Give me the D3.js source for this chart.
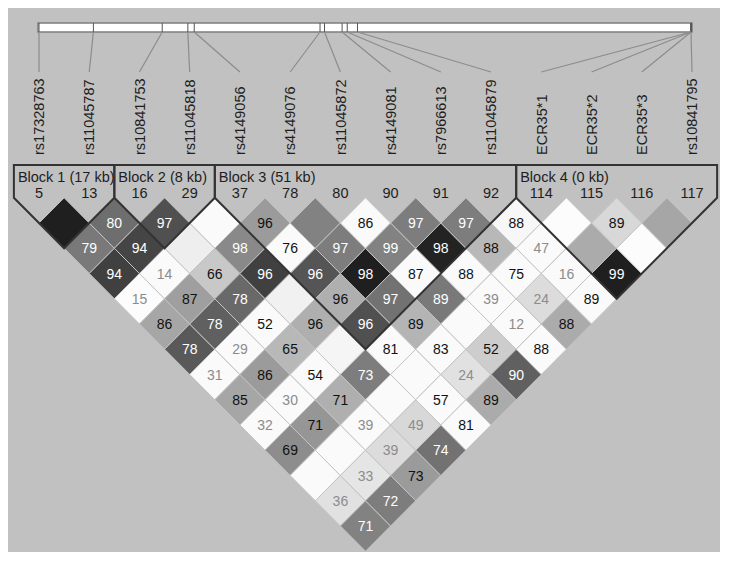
<!DOCTYPE html>
<html>
<head>
<meta charset="utf-8">
<script src="https://d3js.org/d3.v7.min.js"></script>
<style>
  body { margin: 0; background: #fff; }
  text { font-family: "Liberation Sans", Arial, sans-serif; }
</style>
</head>
<body>
<div id="ld"></div>
<script>
// markers, in map order
var markerNames = ["rs17328763", "rs11045787", "rs10841753", "rs11045818", "rs4149056",
  "rs4149076", "rs11045872", "rs4149081", "rs7966613", "rs11045879",
  "ECR35*1", "ECR35*2", "ECR35*3", "rs10841795"];
var markerIds = [5, 13, 16, 29, 37, 78, 80, 90, 91, 92, 114, 115, 116, 117];
// physical position along the region (kb)
var positionsKb = [0, 17, 38.5, 46.5, 48.5, 87.8, 89.2, 94.7, 96.3, 99.5, 203.7, 203.7, 203.7, 203.7];

// haplotype blocks
var blockStart = [0, 2, 4, 10];
var blockEnd = [1, 3, 9, 13];
var blockSize = ["17 kb", "8 kb", "51 kb", "0 kb"];

// D' (x100) for marker i against j = i+1 .. last; null = 1.0 (no number shown)
var dPrime = [
  [null, 79, 94, 15, 86, 78, 31, 85, 32, 69, null, 36, 71],
  [80, 94, 14, 87, 78, 29, 86, 30, 71, null, 33, 72],
  [97, null, 66, 78, 52, 65, 54, 71, 39, 39, 73],
  [null, 98, 96, null, 96, null, 73, null, 49, 74],
  [96, 76, 96, 96, 96, 81, null, 57, 81],
  [null, 97, 98, 97, 89, 83, 24, 89],
  [86, 99, 87, 89, null, 52, 90],
  [97, 98, 88, 39, 12, 88],
  [97, 88, 75, 24, 88],
  [88, 47, 16, 89],
  [null, null, 99],
  [89, null],
  [null]
];

// r-squared for the same pairs (drives the grey shade)
var rSquared = [
  [0.98, 0.58, 0.83, 0.00, 0.38, 0.72, 0.01, 0.38, 0.01, 0.49, 0.01, 0.12, 0.54],
  [0.63, 0.81, 0.01, 0.41, 0.69, 0.01, 0.43, 0.01, 0.45, 0.01, 0.10, 0.56],
  [0.76, 0.06, 0.23, 0.65, 0.01, 0.30, 0.01, 0.34, 0.01, 0.14, 0.43],
  [0.01, 0.51, 0.83, 0.05, 0.34, 0.03, 0.56, 0.01, 0.16, 0.61],
  [0.43, 0.01, 0.74, 0.34, 0.76, 0.01, 0.01, 0.01, 0.01],
  [0.54, 0.56, 0.98, 0.61, 0.32, 0.01, 0.12, 0.36],
  [0.01, 0.54, 0.01, 0.58, 0.01, 0.21, 0.69],
  [0.56, 0.96, 0.01, 0.01, 0.01, 0.01],
  [0.56, 0.30, 0.01, 0.14, 0.36],
  [0.02, 0.01, 0.01, 0.01],
  [0.00, 0.36, 0.98],
  [0.16, 0.00],
  [0.38]
];

var svgWidth = 729;
var svgHeight = 561;

var svg = d3.select("#ld")
  .append("svg")
  .attr("width", svgWidth)
  .attr("height", svgHeight);

// grey panel
svg.append("rect")
  .attr("x", 8)
  .attr("y", 8)
  .attr("width", 712)
  .attr("height", 544)
  .attr("fill", "#c1c1c1");

// scales
var xMarker = d3.scalePoint()
  .domain(d3.range(markerNames.length))
  .range([39, 692]);

var xPhys = d3.scaleLinear()
  .domain([0, d3.max(positionsKb)])
  .range([39, 691]);

var shade = d3.scaleLinear()
  .domain([0, 1])
  .range(["#fcfcfc", "#1a1a1a"]);

var hw = xMarker.step() / 2;
var hh = 25.25;
var rowTop = 223; // centre of first diamond row

// physical map bar
var barTop = 23;
var barBottom = 32;
svg.append("rect")
  .attr("x", 38)
  .attr("y", barTop)
  .attr("width", 654)
  .attr("height", barBottom - barTop)
  .attr("fill", "#fff")
  .attr("stroke", "#7d7d7d")
  .attr("stroke-width", 1.5);

svg.selectAll(".tick")
  .data(positionsKb)
  .enter()
  .append("line")
  .attr("class", "tick")
  .attr("x1", d => xPhys(d))
  .attr("x2", d => xPhys(d))
  .attr("y1", barTop)
  .attr("y2", barBottom)
  .attr("stroke", "#555")
  .attr("stroke-width", 1);

// connectors from map to labels
svg.selectAll(".link")
  .data(positionsKb)
  .enter()
  .append("line")
  .attr("class", "link")
  .attr("x1", d => xPhys(d))
  .attr("y1", barBottom)
  .attr("x2", (d, i) => xMarker(i))
  .attr("y2", 72)
  .attr("stroke", "#8c8c8c")
  .attr("stroke-width", 1.2);

// marker names
svg.selectAll(".mname")
  .data(markerNames)
  .enter()
  .append("text")
  .attr("class", "mname")
  .attr("transform", (d, i) => `translate(${xMarker(i)}, 155) rotate(-90)`)
  .attr("dy", "0.36em")
  .attr("font-size", "14.5px")
  .attr("fill", "#1e1e1e")
  .text(d => d);

// build the cell list
var cells = [];
dPrime.forEach(function(row, i) {
  row.forEach(function(v, k) {
    cells.push({ i: i, j: i + k + 1, d: v, r2: rSquared[i][k] });
  });
});

function cx(d) { return (xMarker(d.i) + xMarker(d.j)) / 2; }
function cy(d) { return rowTop + (d.j - d.i - 1) * hh; }

var cellGroup = svg.append("g");

cellGroup.selectAll("path")
  .data(cells)
  .enter()
  .append("path")
  .attr("d", function(d) {
    var x = cx(d), y = cy(d);
    return `M${x},${y - hh}L${x + hw},${y}L${x},${y + hh}L${x - hw},${y}Z`;
  })
  .attr("fill", d => shade(d.r2))
  .attr("stroke", "#c4c4c4")
  .attr("stroke-width", 1);

cellGroup.selectAll("text")
  .data(cells.filter(d => d.d !== null))
  .enter()
  .append("text")
  .attr("x", d => cx(d))
  .attr("y", d => cy(d))
  .attr("dy", "0.36em")
  .attr("text-anchor", "middle")
  .attr("font-size", "14px")
  .attr("fill", function(d) {
    if (d.d < 50) return "#8c8c8c";
    return d.r2 > 0.5 ? "#fff" : "#111";
  })
  .text(d => d.d);

// block outlines and headers
var headTop = 165;
var headBottom = rowTop - hh;

blockStart.forEach(function(a, n) {
  var b = blockEnd[n];
  var left = xMarker(a) - hw;
  var right = xMarker(b) + hw;
  var bx = (xMarker(a) + xMarker(b)) / 2;
  var by = rowTop + (b - a) * hh;

  svg.append("path")
    .attr("d", `M${left},${headBottom}L${left},${headTop}L${right},${headTop}L${right},${headBottom}L${bx},${by}Z`)
    .attr("fill", "none")
    .attr("stroke", "#333")
    .attr("stroke-width", 2)
    .attr("stroke-linejoin", "miter");

  svg.append("text")
    .attr("x", left + 4)
    .attr("y", 182)
    .attr("font-size", "14.5px")
    .attr("fill", "#1e1e1e")
    .text(`Block ${n + 1} (${blockSize[n]})`);

  svg.selectAll(".bnum" + n)
    .data(d3.range(a, b + 1))
    .enter()
    .append("text")
    .attr("x", k => xMarker(k))
    .attr("y", 198)
    .attr("text-anchor", "middle")
    .attr("font-size", "14.5px")
    .attr("fill", "#1e1e1e")
    .text(k => markerIds[k]);
});
</script>
</body>
</html>
